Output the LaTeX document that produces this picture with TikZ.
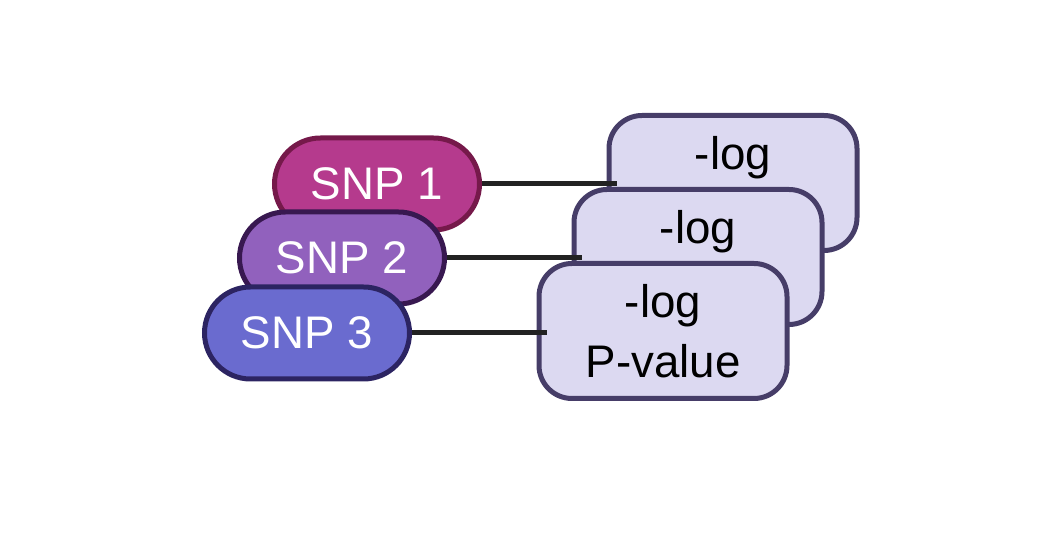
\documentclass[tikz,border=0pt]{standalone}
\usepackage{fontspec}
\setmainfont{Liberation Sans}
\usetikzlibrary{positioning}

\definecolor{snpa}{HTML}{B53A8D}
\definecolor{snpaedge}{HTML}{75194A}
\definecolor{snpb}{HTML}{9161BD}
\definecolor{snpbedge}{HTML}{381850}
\definecolor{snpc}{HTML}{6A6BCF}
\definecolor{snpcedge}{HTML}{2C2462}
\definecolor{pfill}{HTML}{DCD9F1}
\definecolor{pedge}{HTML}{463D68}
\definecolor{linkcol}{HTML}{222222}

\begin{document}
\begin{tikzpicture}[
    snp/.style={rectangle, draw, line width=0.1cm, minimum width=4.1cm, minimum height=1.84cm,
        rounded corners=0.92cm, text=white, font=\fontsize{26}{30}\selectfont},
    pbox/.style={rectangle, draw=pedge, fill=pfill, line width=0.1cm, minimum width=4.96cm,
        minimum height=2.7cm, rounded corners=0.66cm, align=center, font=\fontsize{26}{34}\selectfont},
    link/.style={draw=linkcol, line width=0.1cm}
]
\useasboundingbox (0,0) rectangle (21.24,10.8);

% SNP pills, back to front
\node[snp, fill=snpa, draw=snpaedge] (snp1) at (7.54,7.12) {SNP 1};
\node[snp, fill=snpb, draw=snpbedge] (snp2) at (6.84,5.64) {SNP 2};
\node[snp, fill=snpc, draw=snpcedge] (snp3) at (6.14,4.14) {SNP 3};

% P-value cards, back to front
\node[pbox] (pval1) at (14.66,7.14) {-log\\\phantom{P-value}};
\node[pbox] (pval2) at (13.96,5.66) {-log\\\phantom{P-value}};
\node[pbox] (pval3) at (13.26,4.18) {-log\\P-value};

% Links
\draw[link] (snp1.east) -- ([xshift=0.2cm]pval1.west |- snp1.east);
\draw[link] (snp2.east) -- ([xshift=0.2cm]pval2.west |- snp2.east);
\draw[link] (snp3.east) -- ([xshift=0.2cm]pval3.west |- snp3.east);
\end{tikzpicture}
\end{document}
